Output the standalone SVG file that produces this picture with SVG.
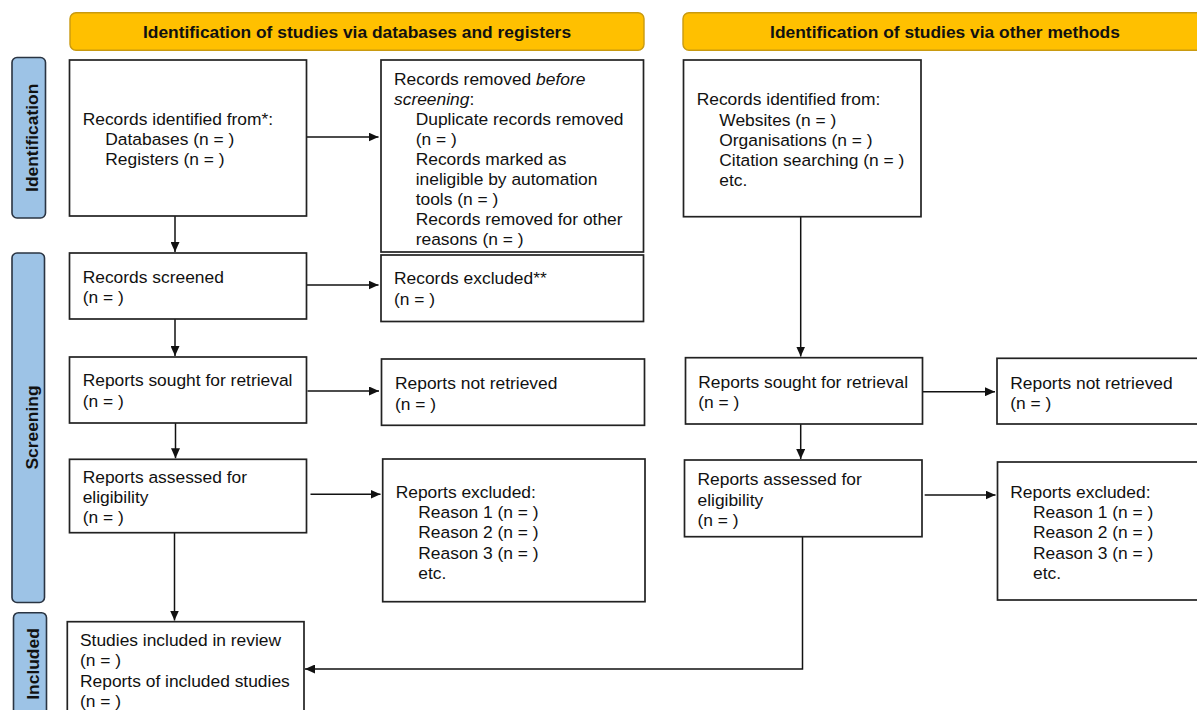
<svg xmlns="http://www.w3.org/2000/svg" width="1197" height="710" viewBox="0 0 1197 710">
<defs>
<marker id="ah" viewBox="0 0 10 10" refX="10" refY="5" markerWidth="10" markerHeight="9" markerUnits="userSpaceOnUse" orient="auto" preserveAspectRatio="none">
<path d="M0,0 L10,5 L0,10 z" fill="#111"/>
</marker>
</defs>
<style>
.bg{fill:#ffffff}
.box{fill:#ffffff;stroke:#222;stroke-width:1.7}
.hdr{fill:#FFC000;stroke:#C99A10;stroke-width:1.4}
.bar{fill:#9DC3E6;stroke:#2A3442;stroke-width:1.6}
text{font-family:"Liberation Sans",Arial,sans-serif;font-size:17.4px;fill:#111}
.b{font-weight:bold}
.it{font-style:italic}
.c{text-anchor:middle}
.ln{fill:none;stroke:#111;stroke-width:1.5}
.arr{marker-end:url(#ah)}
</style>
<rect class="bg" x="0" y="0" width="1197" height="710"/>

<g id="header-databases">
<rect class="hdr" x="70" y="12.7" width="574" height="37.5" rx="6"/>
<text class="b c" x="357" y="38.3">Identification of studies via databases and registers</text>
</g>
<g id="header-other">
<rect class="hdr" x="683" y="12.7" width="530" height="37.5" rx="6"/>
<text class="b c" x="945" y="38.3">Identification of studies via other methods</text>
</g>

<g id="bar-identification">
<rect class="bar" x="12" y="57.5" width="33.5" height="160.5" rx="5"/>
<text class="b c" transform="translate(38.3,137.8) rotate(-90)">Identification</text>
</g>
<g id="bar-screening">
<rect class="bar" x="12" y="253" width="32.5" height="349.5" rx="5"/>
<text class="b c" transform="translate(37.8,427.5) rotate(-90)">Screening</text>
</g>
<g id="bar-included">
<rect class="bar" x="13.5" y="612.7" width="33" height="110" rx="5"/>
<text class="b c" transform="translate(39.3,664) rotate(-90)">Included</text>
</g>

<g id="connectors">
<line class="ln arr" x1="306.7" y1="137" x2="378.5" y2="137"/>
<line class="ln arr" x1="175" y1="216" x2="175" y2="252"/>
<line class="ln arr" x1="306.7" y1="285" x2="378.5" y2="285"/>
<line class="ln arr" x1="175" y1="319" x2="175" y2="356"/>
<line class="ln arr" x1="307.5" y1="391" x2="379" y2="391"/>
<line class="ln arr" x1="175.5" y1="423" x2="175.5" y2="458.3"/>
<line class="ln arr" x1="310.5" y1="494.3" x2="380.5" y2="494.3"/>
<line class="ln arr" x1="174.5" y1="532.7" x2="174.5" y2="620.5"/>
<line class="ln arr" x1="800.7" y1="216.7" x2="800.7" y2="356.5"/>
<line class="ln arr" x1="922.7" y1="391.7" x2="995" y2="391.7"/>
<line class="ln arr" x1="800.7" y1="424" x2="800.7" y2="459"/>
<line class="ln arr" x1="924.7" y1="495" x2="995.5" y2="495"/>
<path class="ln arr" d="M802.5,536.7 V669 H305"/>
</g>

<g id="records-identified-db">
<rect class="box" x="69.5" y="60" width="237" height="156"/>
<text x="82.7" y="125">Records identified from*:</text>
<text x="105.3" y="145.2">Databases (n = )</text>
<text x="105.3" y="165.4">Registers (n = )</text>
</g>

<g id="records-removed">
<rect class="box" x="381" y="60" width="262.5" height="192"/>
<text x="394" y="84.5">Records removed <tspan class="it">before</tspan></text>
<text x="394" y="104.6"><tspan class="it">screening</tspan>:</text>
<text x="415.7" y="124.7">Duplicate records removed</text>
<text x="415.7" y="144.8">(n = )</text>
<text x="415.7" y="164.9">Records marked as</text>
<text x="415.7" y="185">ineligible by automation</text>
<text x="415.7" y="205.1">tools (n = )</text>
<text x="415.7" y="225.2">Records removed for other</text>
<text x="415.7" y="245.3">reasons (n = )</text>
</g>

<g id="records-screened">
<rect class="box" x="69.5" y="253" width="237" height="66"/>
<text x="82.7" y="283">Records screened</text>
<text x="82.7" y="303.3">(n = )</text>
</g>

<g id="records-excluded">
<rect class="box" x="381" y="255" width="262.5" height="66.5"/>
<text x="394" y="284.3">Records excluded**</text>
<text x="394" y="304.5">(n = )</text>
</g>

<g id="reports-sought-db">
<rect class="box" x="69.5" y="357" width="237" height="66"/>
<text x="82.7" y="386">Reports sought for retrieval</text>
<text x="82.7" y="406.5">(n = )</text>
</g>

<g id="reports-not-retrieved-db">
<rect class="box" x="381.5" y="359" width="263" height="66.3"/>
<text x="395" y="389.3">Reports not retrieved</text>
<text x="395" y="409.5">(n = )</text>
</g>

<g id="reports-assessed-db">
<rect class="box" x="69.5" y="459.3" width="237" height="73.4"/>
<text x="82.7" y="482.7">Reports assessed for</text>
<text x="82.7" y="503">eligibility</text>
<text x="82.7" y="523.3">(n = )</text>
</g>

<g id="reports-excluded-db">
<rect class="box" x="382.7" y="459" width="262.3" height="142.7"/>
<text x="395.7" y="497.7">Reports excluded:</text>
<text x="418.3" y="518">Reason 1 (n = )</text>
<text x="418.3" y="538.3">Reason 2 (n = )</text>
<text x="418.3" y="558.5">Reason 3 (n = )</text>
<text x="418.3" y="578.7">etc.</text>
</g>

<g id="studies-included">
<rect class="box" x="67.3" y="621.7" width="236.7" height="100"/>
<text x="80" y="646">Studies included in review</text>
<text x="80" y="666.3">(n = )</text>
<text x="80" y="686.5">Reports of included studies</text>
<text x="80" y="706.8">(n = )</text>
</g>

<g id="records-identified-other">
<rect class="box" x="683.5" y="60" width="237.5" height="156.7"/>
<text x="696.7" y="105.3">Records identified from:</text>
<text x="719.3" y="125.5">Websites (n = )</text>
<text x="719.3" y="145.7">Organisations (n = )</text>
<text x="719.3" y="165.9">Citation searching (n = )</text>
<text x="719.3" y="186.1">etc.</text>
</g>

<g id="reports-sought-other">
<rect class="box" x="685.5" y="357.7" width="237" height="66.3"/>
<text x="698.3" y="387.7">Reports sought for retrieval</text>
<text x="698.3" y="408">(n = )</text>
</g>

<g id="reports-not-retrieved-other">
<rect class="box" x="997" y="358.3" width="220" height="65.7"/>
<text x="1010.3" y="388.7">Reports not retrieved</text>
<text x="1010.3" y="409">(n = )</text>
</g>

<g id="reports-assessed-other">
<rect class="box" x="684.5" y="460" width="237.5" height="76.7"/>
<text x="697.5" y="485.3">Reports assessed for</text>
<text x="697.5" y="505.5">eligibility</text>
<text x="697.5" y="525.8">(n = )</text>
</g>

<g id="reports-excluded-other">
<rect class="box" x="997.5" y="462" width="220" height="138"/>
<text x="1010.3" y="497.7">Reports excluded:</text>
<text x="1033" y="518">Reason 1 (n = )</text>
<text x="1033" y="538.3">Reason 2 (n = )</text>
<text x="1033" y="558.5">Reason 3 (n = )</text>
<text x="1033" y="578.7">etc.</text>
</g>
</svg>
